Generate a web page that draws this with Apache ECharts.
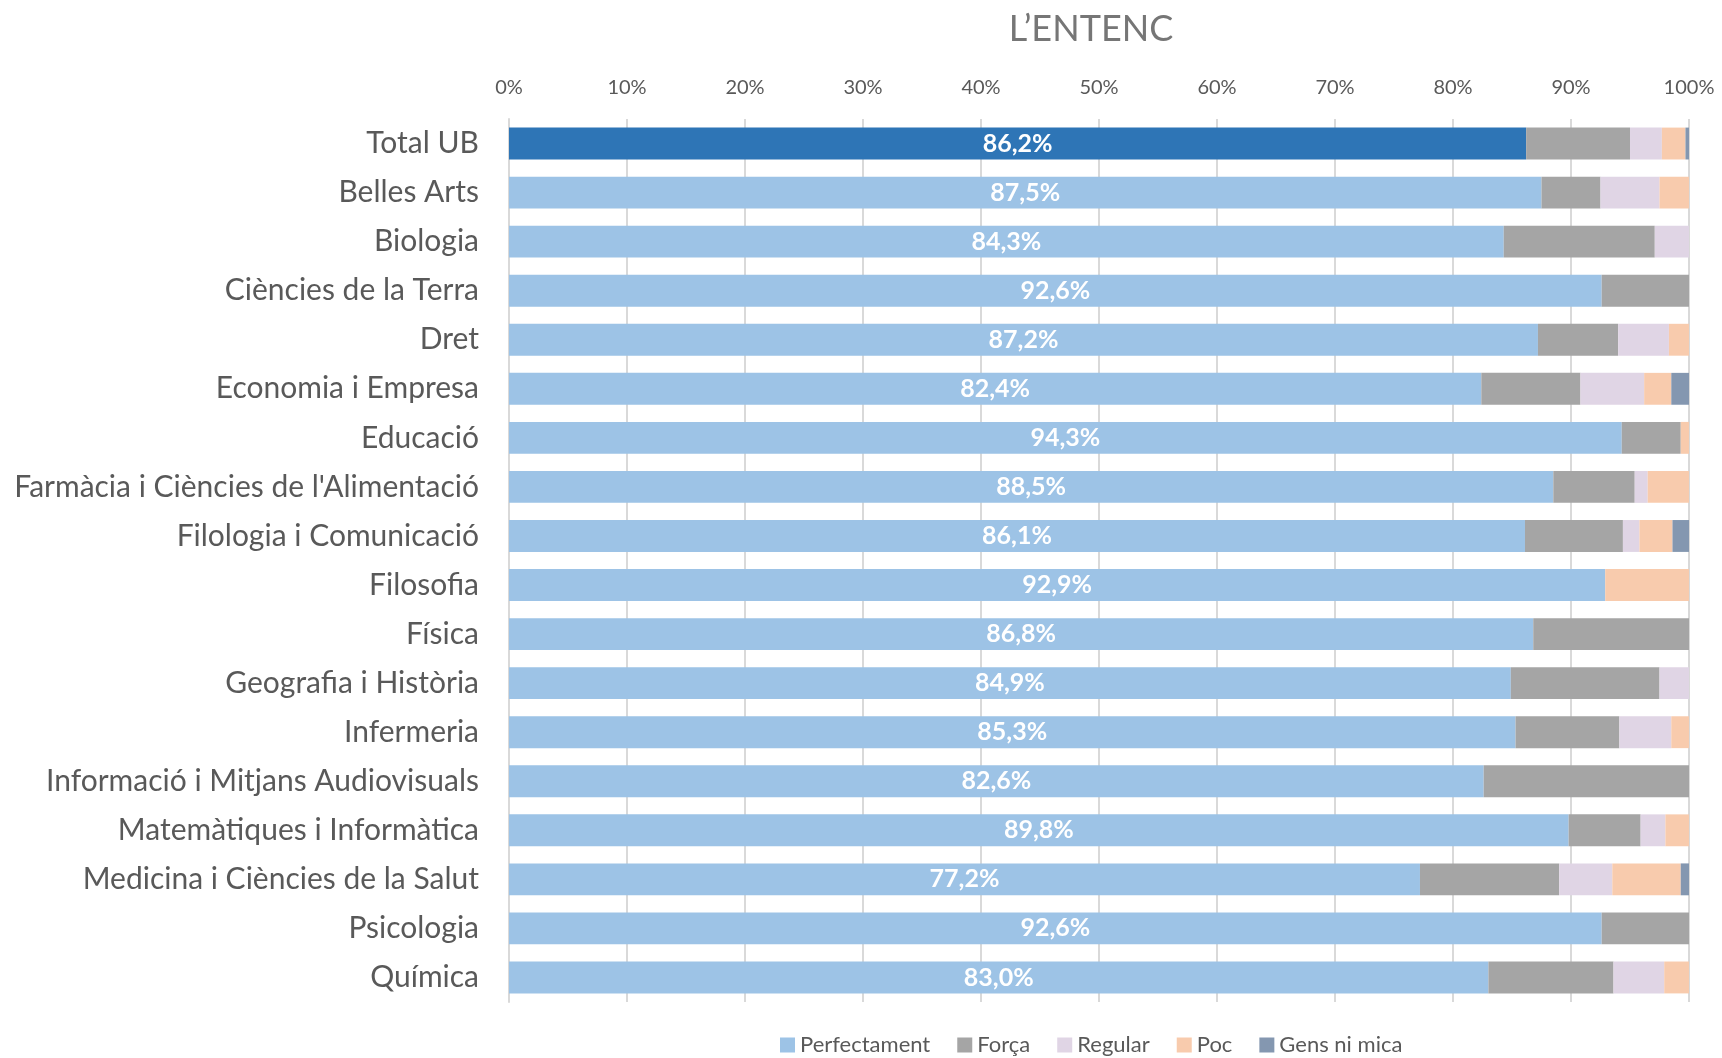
<!DOCTYPE html>
<html>
<head>
<meta charset="utf-8">
<title>L'ENTENC</title>
<script src="https://cdn.jsdelivr.net/npm/echarts@6/dist/echarts.min.js"></script>
<style>
    html, body { margin: 0; padding: 0; background: #fff; }
    #chart { width: 1722px; height: 1058px; }
</style>
</head>
<body>
<div id="chart"></div>
<script>
    // categories from top to bottom
    const categories = [
        'Total UB', 'Belles Arts', 'Biologia', 'Ciències de la Terra', 'Dret',
        'Economia i Empresa', 'Educació', "Farmàcia i Ciències de l'Alimentació",
        'Filologia i Comunicació', 'Filosofia', 'Física', 'Geografia i Història',
        'Infermeria', 'Informació i Mitjans Audiovisuals', 'Matemàtiques i Informàtica',
        'Medicina i Ciències de la Salut', 'Psicologia', 'Química'
    ];
    const perfectament = [86.2, 87.5, 84.3, 92.6, 87.2, 82.4, 94.3, 88.5, 86.1, 92.9, 86.8, 84.9, 85.3, 82.6, 89.8, 77.2, 92.6, 83.0];
    const forca        = [8.8, 5.0, 12.8, 7.4, 6.8, 8.4, 5.0, 6.9, 8.3, 0, 13.2, 12.6, 8.8, 17.4, 6.1, 11.8, 7.4, 10.6];
    const regular      = [2.7, 5.0, 2.9, 0, 4.3, 5.4, 0, 1.1, 1.4, 0, 0, 2.5, 4.4, 0, 2.1, 4.5, 0, 4.3];
    const poc          = [2.0, 2.5, 0, 0, 1.7, 2.3, 0.7, 3.5, 2.8, 7.1, 0, 0, 1.5, 0, 2.0, 5.8, 0, 2.1];
    const gensNiMica   = [0.3, 0, 0, 0, 0, 1.5, 0, 0, 1.4, 0, 0, 0, 0, 0, 0, 0.7, 0, 0];

    const FONT = 'Lato, "Noto Sans", sans-serif';

    const myChart = echarts.init(document.getElementById('chart'));

    function seg(name, values, color, withLabel) {
        let s = {
            name: name,
            type: 'bar',
            stack: 'total',
            barWidth: '65%',
            itemStyle: { color: color },
            emphasis: { disabled: true },
            data: values
        };
        if (withLabel) {
            // Total UB in a darker blue
            s.data = values.map((v, i) => i === 0 ? { value: v, itemStyle: { color: '#2E75B6' } } : v);
            s.label = {
                show: true,
                position: 'inside',
                color: '#fff',
                fontWeight: 'bold',
                fontSize: 25,
                fontFamily: FONT,
                formatter: p => p.value.toFixed(1).replace('.', ',') + '%'
            };
        }
        return s;
    }

    let option = {
        animation: false,
        title: {
            text: 'L\u2019ENTENC',
            left: 1086,
            textAlign: 'center',
            top: 6,
            textStyle: { color: '#767676', fontSize: 36, fontWeight: 'normal', fontFamily: FONT }
        },
        legend: {
            top: 1029,
            left: 775,
            itemWidth: 15,
            itemHeight: 15,
            itemGap: 27,
            icon: 'rect',
            textStyle: { color: '#595959', fontSize: 22, fontFamily: FONT },
            data: ['Perfectament', 'Força', 'Regular', 'Poc', 'Gens ni mica']
        },
        grid: { left: 509, right: 33, top: 119, bottom: 56 },
        xAxis: {
            type: 'value',
            position: 'top',
            min: 0,
            max: 100,
            interval: 10,
            axisLine: { show: false },
            axisTick: { show: false },
            axisLabel: { formatter: '{value}%', color: '#595959', fontSize: 20, fontFamily: FONT, margin: 21 },
            splitLine: { lineStyle: { color: '#D9D9D9', width: 2 } }
        },
        yAxis: {
            type: 'category',
            inverse: true,
            data: categories,
            axisLine: { show: true, lineStyle: { color: '#D9D9D9', width: 2 } },
            axisTick: { show: false },
            axisLabel: { color: '#595959', fontSize: 30, fontFamily: FONT, margin: 30 }
        },
        series: [
            seg('Perfectament', perfectament, '#9DC3E6', true),
            seg('Força', forca, '#A5A5A5'),
            seg('Regular', regular, '#E0D5E5'),
            seg('Poc', poc, '#F8CBAD'),
            seg('Gens ni mica', gensNiMica, '#8497B0')
        ]
    };
    myChart.setOption(option);
</script>
</body>
</html>
